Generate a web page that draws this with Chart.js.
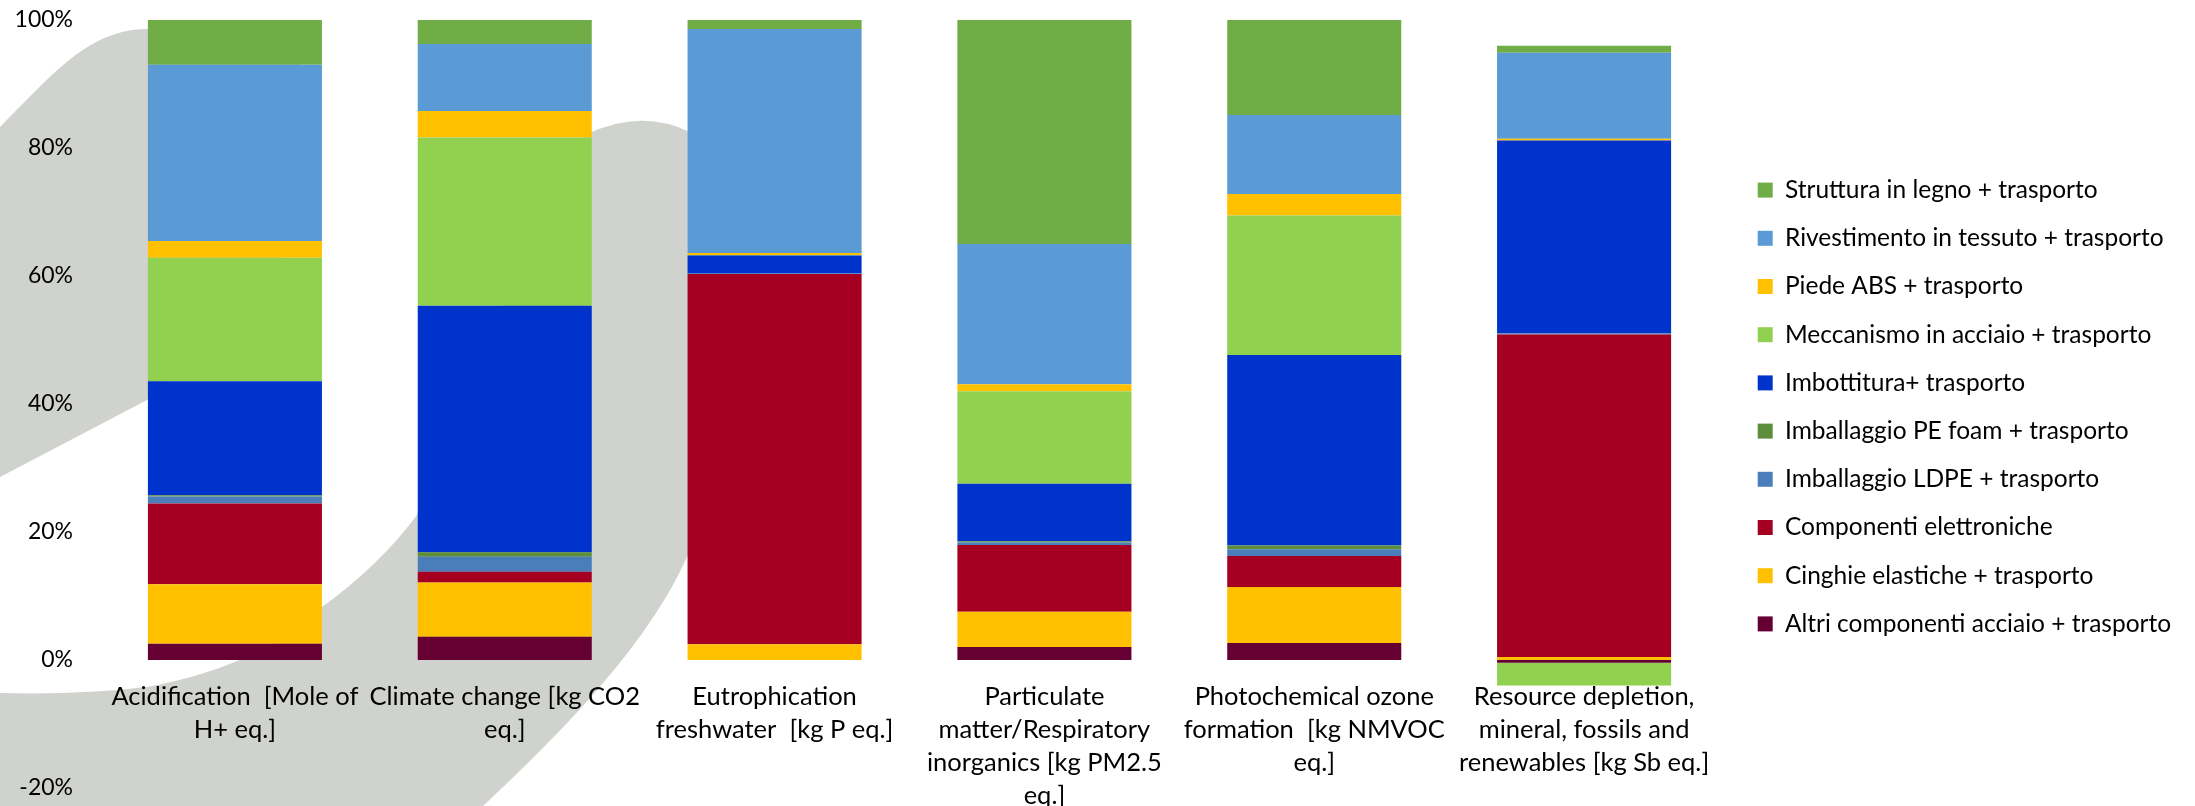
<!DOCTYPE html>
<html>
<head>
<meta charset="utf-8">
<title>Contributi per categoria di impatto</title>
<script src="https://cdn.jsdelivr.net/npm/chart.js@4.4.1/dist/chart.umd.min.js"></script>
<style>
  html, body { margin: 0; padding: 0; background: #ffffff; }
  #wrap { width: 2195px; height: 806px; }
</style>
</head>
<body>
<div id="wrap"><canvas id="chart" width="2195" height="806"></canvas></div>
<script>
// Impact categories (multi-line axis labels)
const categories = [
  ['Acidification  [Mole of', 'H+ eq.]'],
  ['Climate change [kg CO2', 'eq.]'],
  ['Eutrophication', 'freshwater  [kg P eq.]'],
  ['Particulate', 'matter/Respiratory', 'inorganics [kg PM2.5', 'eq.]'],
  ['Photochemical ozone', 'formation  [kg NMVOC', 'eq.]'],
  ['Resource depletion,', 'mineral, fossils and', 'renewables [kg Sb eq.]']
];

// Contribution of each component, % of the category total
const altriComponenti = [2.55, 3.65, 0, 2.05, 2.65, -0.42];
const cinghieElastiche = [9.3, 8.45, 2.45, 5.5, 8.75, 0.47];
const componentiElettroniche = [12.6, 1.7, 57.85, 10.4, 4.85, 50.4];
const imballaggioLDPE = [1.1, 2.35, 0.1, 0.4, 1.05, 0.2];
const imballaggioPEfoam = [0.2, 0.7, 0, 0.2, 0.6, 0];
const imbottitura = [17.8, 38.5, 2.8, 9.0, 29.75, 30.1];
const meccanismoAcciaio = [19.3, 26.3, 0.1, 14.45, 21.8, -3.55];
const piedeABS = [2.6, 4.15, 0.3, 1.1, 3.35, 0.27];
const rivestimentoTessuto = [27.55, 10.45, 35.0, 21.9, 12.35, 13.45];
const strutturaLegno = [7.0, 3.75, 1.4, 35.0, 14.85, 1.1];

// Value axis ticks (%)
const yTicks = [-20, 0, 20, 40, 60, 80, 100];

// Series in stacking order (bottom first)
const seriesNames = [
  'Altri componenti acciaio + trasporto',
  'Cinghie elastiche + trasporto',
  'Componenti elettroniche',
  'Imballaggio LDPE + trasporto',
  'Imballaggio PE foam + trasporto',
  'Imbottitura+ trasporto',
  'Meccanismo in acciaio + trasporto',
  'Piede ABS + trasporto',
  'Rivestimento in tessuto + trasporto',
  'Struttura in legno + trasporto'
];
const seriesValues = [
  altriComponenti, cinghieElastiche, componentiElettroniche, imballaggioLDPE,
  imballaggioPEfoam, imbottitura, meccanismoAcciaio, piedeABS,
  rivestimentoTessuto, strutturaLegno
];
const seriesColors = [
  '#660033', '#FFC000', '#A50021', '#4A7EBB', '#5D8E3B',
  '#0033CC', '#92D050', '#FFC000', '#5B9BD5', '#70AD47'
];

const FONT = 'Lato, "Open Sans", sans-serif';

// Grey brush-stroke watermark behind the plot
const backdrop = {
  id: 'backdrop',
  beforeDraw(chart) {
    const ctx = chart.ctx;
    ctx.save();
    ctx.fillStyle = '#ffffff';
    ctx.fillRect(0, 0, chart.width, chart.height);
    ctx.fillStyle = 'rgb(208,210,206)';

    // upper stroke
    ctx.beginPath();
    ctx.moveTo(0, 127);
    ctx.bezierCurveTo(55, 72, 90, 28, 150, 29);
    ctx.lineTo(300, 29);
    ctx.lineTo(300, 240);
    ctx.quadraticCurveTo(200, 340, 147, 400);
    ctx.lineTo(0, 477);
    ctx.closePath();
    ctx.fill();

    // lower stroke
    ctx.beginPath();
    ctx.moveTo(0, 693);
    ctx.quadraticCurveTo(80, 695, 147, 687);
    ctx.bezierCurveTo(230, 672, 290, 640, 322, 607);
    ctx.quadraticCurveTo(380, 565, 417, 515);
    ctx.lineTo(520, 260);
    ctx.lineTo(585, 135);
    ctx.quadraticCurveTo(640, 108, 690, 132);
    ctx.lineTo(760, 200);
    ctx.lineTo(760, 420);
    ctx.lineTo(687, 557);
    ctx.bezierCurveTo(650, 640, 570, 725, 483, 806);
    ctx.lineTo(0, 806);
    ctx.closePath();
    ctx.fill();
    ctx.restore();
  }
};

// Legend column: fixed width and a small offset from the plot
const legendPlacement = {
  id: 'legendPlacement',
  afterInit(chart) {
    const lg = chart.legend;
    const fit = lg.fit;
    const draw = lg.draw;
    lg.fit = function () { fit.call(this); this.width = 476; };
    lg.draw = function () {
      const ctx = this.ctx;
      ctx.save();
      ctx.translate(15, 3);
      draw.call(this);
      ctx.restore();
    };
  }
};

const datasets = seriesNames.map((name, i) => ({
  label: name,
  data: seriesValues[i],
  backgroundColor: seriesColors[i],
  borderWidth: 0
}));

new Chart(document.getElementById('chart'), {
  type: 'bar',
  data: { labels: categories, datasets },
  options: {
    responsive: false,
    animation: false,
    devicePixelRatio: 1,
    layout: { padding: { left: 0, right: 0, top: 20, bottom: 18 } },
    datasets: { bar: { categoryPercentage: 0.645, barPercentage: 1 } },
    scales: {
      x: {
        stacked: true,
        position: { y: 0 },
        grid: { display: false, drawTicks: false },
        border: { display: false },
        ticks: {
          autoSkip: false, maxRotation: 0, minRotation: 0,
          padding: 20, color: '#000',
          font: { family: FONT, size: 25.5, lineHeight: 1.294 }
        },
        afterFit(scale) { scale.height = 0; }
      },
      y: {
        stacked: true,
        min: -20, max: 100,
        grid: { display: false, drawTicks: false },
        border: { display: false },
        afterBuildTicks(scale) { scale.ticks = yTicks.map(v => ({ value: v })); },
        ticks: {
          padding: 27, color: '#000',
          font: { family: FONT, size: 23 },
          callback: v => v + '%'
        },
        afterFit(scale) {
          scale.width = 100;
          scale.paddingTop = 0;
          scale.paddingBottom = 0;
        }
      }
    },
    plugins: {
      legend: {
        position: 'right',
        reverse: true,
        labels: {
          boxWidth: 15, boxHeight: 15, padding: 23.7,
          color: '#000',
          font: { family: FONT, size: 24.5 }
        }
      },
      tooltip: { enabled: false }
    }
  },
  plugins: [backdrop, legendPlacement]
});
</script>
</body>
</html>
